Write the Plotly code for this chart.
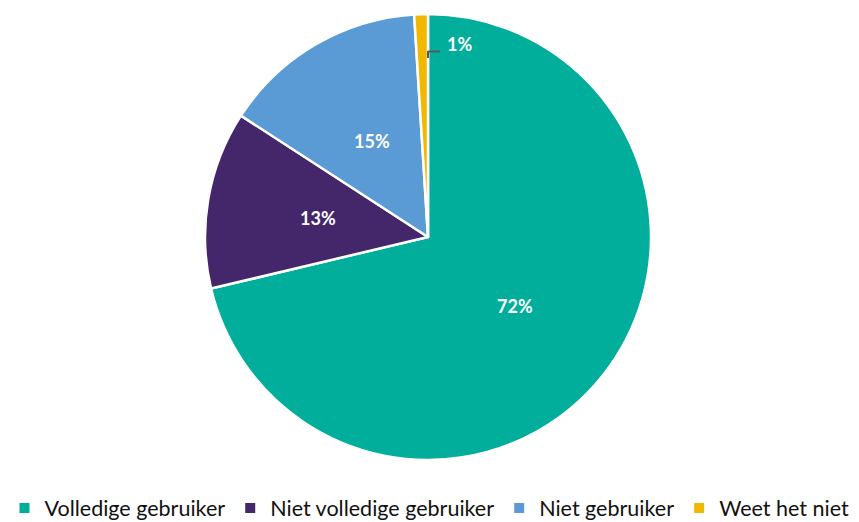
import math
import plotly.graph_objects as go

categories = ["Volledige gebruiker", "Niet volledige gebruiker", "Niet gebruiker", "Weet het niet"]
values = [72, 13, 15, 1]
colors = ["#00AE9B", "#44276A", "#5B9BD5", "#F2B800"]

W, H = 859, 522
ML, MR, MT, MB = 0, 3, 14, 62
LABEL_FONT = dict(family="Lato, Open Sans, sans-serif", size=18, color="white")

fig = go.Figure(go.Pie(
    labels=categories,
    values=values,
    marker=dict(colors=colors, line=dict(color="white", width=2.5)),
    sort=False,
    direction="clockwise",
    rotation=0,
    textinfo="none",
    hole=0,
    showlegend=True,
))

plot_w = W - ML - MR
plot_h = H - MT - MB
r_px = min(plot_w, plot_h) / 2


def px(x):
    return (x - ML) / plot_w


def py(y):
    return 1 - (y - MT) / plot_h


# Data labels placed at half the radius along each slice's mid-angle (computed from the values)
total = sum(values)
start = 0.0
for v, c in zip(values, categories):
    span = v / total * 2 * math.pi
    mid = start + span / 2
    start += span
    if v < 3:
        continue
    fig.add_annotation(
        x=0.5 + 0.5 * r_px * math.sin(mid) / plot_w,
        y=0.5 + 0.5 * r_px * math.cos(mid) / plot_h,
        xref="paper", yref="paper",
        text=f"<b>{v}%</b>", showarrow=False,
        xanchor="center", yanchor="middle",
        font=LABEL_FONT,
    )

# Small slice: label outside the slice with a leader line
fig.add_annotation(
    x=px(445), y=py(44), xref="paper", yref="paper",
    text=f"<b>{values[-1]}%</b>", showarrow=False, xanchor="left", yanchor="middle",
    font=LABEL_FONT,
)
fig.add_shape(type="line", xref="paper", yref="paper",
              x0=px(428), y0=py(58), x1=px(428), y1=py(51),
              line=dict(color="#595959", width=2))
fig.add_shape(type="line", xref="paper", yref="paper",
              x0=px(428), y0=py(51.5), x1=px(440), y1=py(51.5),
              line=dict(color="#595959", width=2))

fig.update_layout(
    width=W, height=H,
    margin=dict(l=ML, r=MR, t=MT, b=MB),
    paper_bgcolor="white",
    plot_bgcolor="white",
    font=dict(family="Lato, Open Sans, sans-serif", color="#222222"),
    legend=dict(
        orientation="h",
        xref="container", yref="container",
        x=0.5, xanchor="center",
        y=(H - 508) / H, yanchor="middle",
        font=dict(size=21.5, color="#111111"),
        itemsizing="constant",
        traceorder="normal",
        itemwidth=30,
    ),
)

fig.write_html("out.html", config={"displayModeBar": False},
               post_script="document.body.style.margin='0';")
